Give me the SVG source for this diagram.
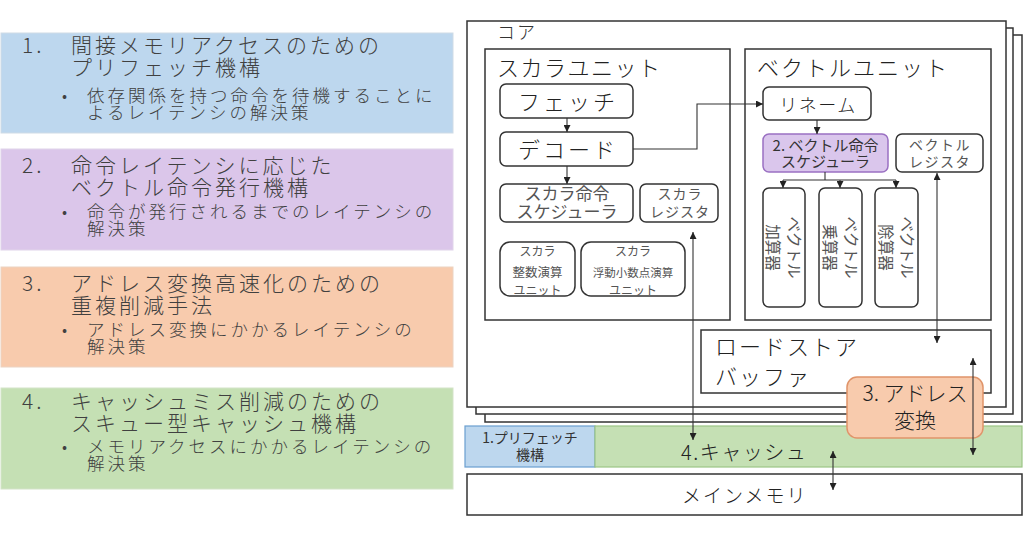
<svg xmlns="http://www.w3.org/2000/svg" width="1024" height="536" viewBox="0 0 1024 536">
<defs>
<style>
text{font-family:"Noto Sans CJK JP","Noto Sans",sans-serif;fill:#333}
.pt{font-size:21px;letter-spacing:3px;fill:#404040;font-weight:300}
.pb{font-size:17.5px;letter-spacing:3px;fill:#404040;font-weight:300}
.box{fill:#fff;stroke:#333;stroke-width:1.5}
.rb{fill:#fff;stroke:#333;stroke-width:1.5}
.lg{font-size:22px;fill:#222;font-weight:300}
.gr{fill:#555}
.c{stroke:#333;stroke-width:1.1;fill:none}
.mid{text-anchor:middle}
</style>
<marker id="ah" viewBox="0 0 8 8" refX="8" refY="4" markerWidth="7" markerHeight="7" markerUnits="userSpaceOnUse" orient="auto-start-reverse">
<path d="M0,0 L8,4 L0,8 z" fill="#222"/>
</marker>
</defs>
<rect width="1024" height="536" fill="#fff"/>

<g id="panel1">
<rect x="1" y="33" width="452" height="100" fill="#bdd7ee" stroke="#cfdbe6" stroke-width="1"/>
<text class="pt" x="22" y="53">1.</text>
<text class="pt" x="71" y="53">間接メモリアクセスのための</text>
<text class="pt" x="71" y="75">プリフェッチ機構</text>
<text class="pb" x="62" y="102" style="font-size:16px">•</text>
<text class="pb" x="87" y="102">依存関係を持つ命令を待機することに</text>
<text class="pb" x="87" y="119">よるレイテンシの解決策</text>
</g>
<g id="panel2">
<rect x="1" y="149" width="452" height="101" fill="#dbc6ea" stroke="#e0d4ea" stroke-width="1"/>
<text class="pt" x="22" y="173">2.</text>
<text class="pt" x="71" y="173">命令レイテンシに応じた</text>
<text class="pt" x="71" y="195">ベクトル命令発行機構</text>
<text class="pb" x="62" y="218" style="font-size:16px">•</text>
<text class="pb" x="87" y="218">命令が発行されるまでのレイテンシの</text>
<text class="pb" x="87" y="235">解決策</text>
</g>
<g id="panel3">
<rect x="1" y="267" width="452" height="100" fill="#f8cbad" stroke="#ecd3c2" stroke-width="1"/>
<text class="pt" x="22" y="291">3.</text>
<text class="pt" x="71" y="291">アドレス変換高速化のための</text>
<text class="pt" x="71" y="313">重複削減手法</text>
<text class="pb" x="62" y="336" style="font-size:16px">•</text>
<text class="pb" x="87" y="336">アドレス変換にかかるレイテンシの</text>
<text class="pb" x="87" y="353">解決策</text>
</g>
<g id="panel4">
<rect x="1" y="388" width="452" height="101" fill="#c5e0b4" stroke="#d3e3c8" stroke-width="1"/>
<text class="pt" x="22" y="409">4.</text>
<text class="pt" x="71" y="409">キャッシュミス削減のための</text>
<text class="pt" x="71" y="431">スキュー型キャッシュ機構</text>
<text class="pb" x="62" y="453" style="font-size:16px">•</text>
<text class="pb" x="87" y="453">メモリアクセスにかかるレイテンシの</text>
<text class="pb" x="87" y="470">解決策</text>
</g>

<g id="core">
<rect class="box" x="485" y="35" width="537" height="387"/>
<rect class="box" x="476" y="28" width="537" height="386"/>
<rect class="box" x="467" y="21" width="539" height="386"/>
<text x="497" y="39" style="font-size:18px;letter-spacing:2px;font-weight:300">コア</text>
</g>

<g id="scalar-unit">
<rect class="box" x="485" y="49" width="245" height="271"/>
<text class="lg" x="497" y="76" style="letter-spacing:1.5px">スカラユニット</text>
</g>
<g id="vector-unit">
<rect class="box" x="745" y="49" width="246" height="271"/>
<text class="lg" x="757" y="76" style="letter-spacing:2px">ベクトルユニット</text>
</g>

<g id="fetch">
<rect class="rb" x="500" y="84" width="133" height="34" rx="6"/>
<text class="mid" x="568" y="110" style="font-size:22px;letter-spacing:3px;fill:#222;font-weight:300">フェッチ</text>
</g>
<g id="decode">
<rect class="rb" x="500" y="132" width="133" height="34" rx="6"/>
<text class="mid" x="568" y="158" style="font-size:22px;letter-spacing:3px;fill:#222;font-weight:300">デコード</text>
</g>
<g id="scalar-scheduler">
<rect class="rb" x="500" y="184" width="133" height="38" rx="6"/>
<text class="mid gr" x="567" y="200" style="font-size:17px">スカラ命令</text>
<text class="mid gr" x="567" y="218" style="font-size:17px">スケジューラ</text>
</g>
<g id="scalar-register">
<rect class="rb" x="640" y="184" width="78" height="38" rx="6"/>
<text class="mid gr" x="680" y="199" style="font-size:14px;letter-spacing:1px">スカラ</text>
<text class="mid gr" x="680" y="217" style="font-size:14px;letter-spacing:1px">レジスタ</text>
</g>
<g id="scalar-int-unit">
<rect class="rb" x="500" y="242" width="75" height="54" rx="10"/>
<text class="mid gr" x="537.5" y="256" style="font-size:12px">スカラ</text>
<text class="mid gr" x="537.5" y="277" style="font-size:12.5px">整数演算</text>
<text class="mid gr" x="537.5" y="295" style="font-size:12px">ユニット</text>
</g>
<g id="scalar-fp-unit">
<rect class="rb" x="581" y="242" width="104" height="54" rx="10"/>
<text class="mid gr" x="633" y="256" style="font-size:12px">スカラ</text>
<text class="mid gr" x="633" y="277" style="font-size:11.5px">浮動小数点演算</text>
<text class="mid gr" x="633" y="295" style="font-size:12px">ユニット</text>
</g>

<g id="rename">
<rect class="rb" x="763" y="87" width="108" height="33" rx="6"/>
<text class="mid" x="818" y="112" style="font-size:18px;letter-spacing:1.5px;fill:#222;font-weight:300">リネーム</text>
</g>
<g id="vector-scheduler">
<rect x="763" y="134" width="125" height="38" rx="6" fill="#dac6ec" stroke="#9a70c2" stroke-width="1.5"/>
<text class="mid" x="825.5" y="151" style="font-size:15px">2. ベクトル命令</text>
<text class="mid" x="825.5" y="167" style="font-size:15px">スケジューラ</text>
</g>
<g id="vector-register">
<rect class="rb" x="896" y="134" width="87" height="38" rx="6"/>
<text class="mid gr" x="940" y="150" style="font-size:14px;letter-spacing:1.5px">ベクトル</text>
<text class="mid gr" x="940" y="167" style="font-size:14px;letter-spacing:1.5px">レジスタ</text>
</g>
<g id="vector-adder">
<rect class="rb" x="763" y="188" width="42" height="119" rx="6"/>
<g transform="translate(784,247.5) rotate(90)">
<text class="mid gr" x="0" y="-4" style="font-size:15.5px">ベクトル</text>
<text class="mid gr" x="0" y="17" style="font-size:15.5px">加算器</text>
</g>
</g>
<g id="vector-multiplier">
<rect class="rb" x="819" y="188" width="43" height="119" rx="6"/>
<g transform="translate(840.5,247.5) rotate(90)">
<text class="mid gr" x="0" y="-4" style="font-size:15.5px">ベクトル</text>
<text class="mid gr" x="0" y="17" style="font-size:15.5px">乗算器</text>
</g>
</g>
<g id="vector-divider">
<rect class="rb" x="875" y="188" width="43" height="119" rx="6"/>
<g transform="translate(896.5,247.5) rotate(90)">
<text class="mid gr" x="0" y="-4" style="font-size:15.5px">ベクトル</text>
<text class="mid gr" x="0" y="17" style="font-size:15.5px">除算器</text>
</g>
</g>

<g id="load-store-buffer">
<rect class="box" x="701" y="330" width="290" height="63"/>
<text x="715" y="355" style="font-size:22px;letter-spacing:2px;fill:#222;font-weight:300">ロードストア</text>
<text x="715" y="385" style="font-size:22px;letter-spacing:2px;fill:#222;font-weight:300">バッファ</text>
</g>

<g id="prefetch">
<rect x="465" y="426" width="130" height="41" fill="#bdd7ee" stroke="#6a9fd0" stroke-width="1.2"/>
<text class="mid" x="530" y="443" style="font-size:14px">1.プリフェッチ</text>
<text class="mid" x="530" y="460" style="font-size:14px">機構</text>
</g>
<g id="cache">
<rect x="595" y="426" width="427" height="41" fill="#c5e0b4" stroke="#9cc585" stroke-width="1.2"/>
<text x="681" y="460" style="font-size:20px;letter-spacing:1.5px;fill:#222;font-weight:300">4.キャッシュ</text>
</g>
<g id="address-translation">
<rect x="847" y="377" width="136" height="61" rx="10" fill="#f8cbad" stroke="#e0946a" stroke-width="1.5"/>
<text class="mid" x="915" y="401" style="font-size:21px;fill:#222;font-weight:300">3. アドレス</text>
<text class="mid" x="915" y="428" style="font-size:21px;fill:#222;font-weight:300">変換</text>
</g>
<g id="main-memory">
<rect class="box" x="467" y="474" width="555" height="41"/>
<text x="682" y="503" style="font-size:19px;letter-spacing:2px;fill:#222;font-weight:300">メインメモリ</text>
</g>

<g id="connectors">
<path class="c" d="M567,118 V132" marker-end="url(#ah)"/>
<path class="c" d="M567,166 V184" marker-end="url(#ah)"/>
<path class="c" d="M633,149 H697 V104 H763" marker-end="url(#ah)"/>
<path class="c" d="M817,120 V134" marker-end="url(#ah)"/>
<path class="c" d="M825,172 V180 M783,180 H896"/>
<path class="c" d="M783,180 V188" marker-end="url(#ah)"/>
<path class="c" d="M840,180 V188" marker-end="url(#ah)"/>
<path class="c" d="M896,180 V188" marker-end="url(#ah)"/>
<path class="c" d="M693,232 V440" marker-start="url(#ah)" marker-end="url(#ah)"/>
<path class="c" d="M937,173 V343" marker-start="url(#ah)" marker-end="url(#ah)"/>
<path class="c" d="M973,358 V455" marker-start="url(#ah)" marker-end="url(#ah)"/>
<path class="c" d="M833,451 V490" marker-start="url(#ah)" marker-end="url(#ah)"/>
</g>
</svg>
